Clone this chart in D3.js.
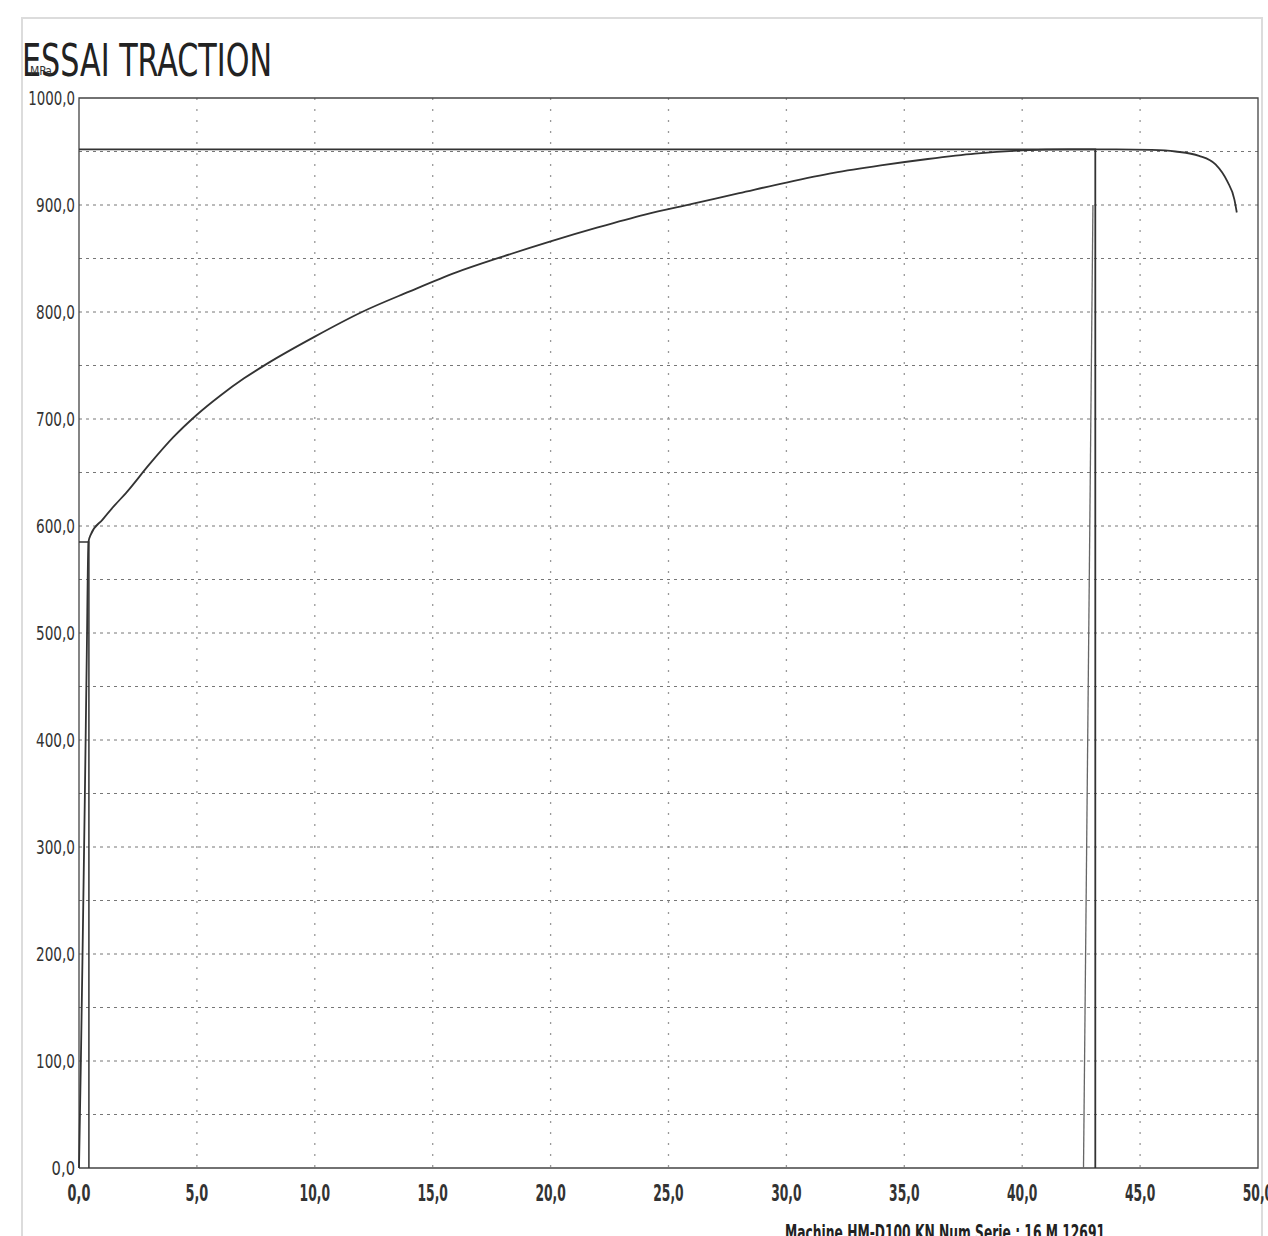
<!DOCTYPE html>
<html>
<head>
<meta charset="utf-8">
<script src="https://cdn.jsdelivr.net/npm/d3@7"></script>
<style>
  body { margin: 0; background: #fff; }
  text { font-family: "Liberation Sans Narrow", "DejaVu Sans Condensed", "Roboto Condensed", sans-serif; }
</style>
</head>
<body>
<div class="chart"></div>
<script>
	// tensile curve: elongation (%) vs stress (MPa)
	var elong = [0.0, 0.08, 0.15, 0.25, 0.33, 0.40, 0.5, 1.0, 1.5, 2, 3, 4, 5, 6, 7, 8, 10, 12, 14, 16, 18, 20, 22, 24, 26, 28, 30, 32, 34, 36, 38, 40, 42, 44, 45.5, 46.5, 47.5, 48.2, 48.7, 49.0, 49.1];
	var stress = [0, 100, 200, 350, 480, 585, 592, 606, 619, 631, 658, 683, 704, 722, 738, 752, 777, 800, 819, 837, 852, 866, 879, 891, 901, 911, 921, 930, 937, 943, 948, 951, 952, 952, 951.5, 950, 946, 938, 922, 905, 893];

	// markers: yield (Rp) and max (Rm) + rupture line
	var rpX = 0.42, rpY = 585;
	var rmX = 43.1, rmY = 952;
	var breakLine = [[43.0, 900], [42.6, 0]];

	var xTicks = [0, 5, 10, 15, 20, 25, 30, 35, 40, 45, 50];
	var yTicks = [0, 100, 200, 300, 400, 500, 600, 700, 800, 900, 1000];
	var yGrid = d3.range(50, 1000, 50);

	var svg_w = 1268, svg_h = 1236;
	var svg = d3.select("div.chart").append("svg")
		.attr("width", svg_w)
		.attr("height", svg_h);

	var pLeft = 79, pRight = 1258, pTop = 98, pBottom = 1168;

	var x = d3.scaleLinear().domain([0, 50]).range([pLeft, pRight]);
	var y = d3.scaleLinear().domain([0, 1000]).range([pBottom, pTop]);

	function fmt(d) { return d3.format(".1f")(d).replace(".", ","); }

	// page frame
	svg.append("rect")
		.attr("x", 22).attr("y", 18)
		.attr("width", 1240).attr("height", 1230)
		.attr("fill", "none")
		.attr("stroke", "#dcdcdc")
		.attr("stroke-width", 2);

	// grid
	svg.append("g").selectAll("line")
		.data(yGrid)
		.enter().append("line")
		.attr("x1", pLeft).attr("x2", pRight)
		.attr("y1", function(d) { return y(d); })
		.attr("y2", function(d) { return y(d); })
		.attr("stroke", "#777")
		.attr("stroke-width", 1)
		.attr("stroke-dasharray", "3,4");

	svg.append("g").selectAll("line")
		.data(xTicks.slice(1, -1))
		.enter().append("line")
		.attr("x1", function(d) { return x(d); })
		.attr("x2", function(d) { return x(d); })
		.attr("y1", pTop).attr("y2", pBottom)
		.attr("stroke", "#999")
		.attr("stroke-width", 1.3)
		.attr("stroke-dasharray", "2,9");

	// frame of plot
	svg.append("path")
		.attr("d", "M" + pLeft + "," + pBottom + "V" + pTop + "H" + pRight + "V" + pBottom + "H" + pLeft)
		.attr("fill", "none")
		.attr("stroke", "#444")
		.attr("stroke-width", 1.3);

	// axes labels
	svg.append("g").selectAll("text")
		.data(yTicks)
		.enter().append("text")
		.attr("x", 75)
		.attr("y", function(d) { return y(d) + 7; })
		.attr("text-anchor", "end")
		.attr("font-size", "20px")
		.attr("fill", "#333")
		.attr("textLength", function(d) { return fmt(d).length * 7.8; })
		.attr("lengthAdjust", "spacingAndGlyphs")
		.text(fmt);

	svg.append("g").selectAll("text")
		.data(xTicks)
		.enter().append("text")
		.attr("x", function(d) { return x(d); })
		.attr("y", 1201)
		.attr("text-anchor", "middle")
		.attr("font-size", "23px")
		.attr("font-weight", "bold")
		.attr("fill", "#333")
		.attr("textLength", function(d) { return fmt(d).length * 7.6; })
		.attr("lengthAdjust", "spacingAndGlyphs")
		.text(fmt);

	// markers
	svg.append("path")
		.attr("d", "M" + pLeft + "," + y(rpY) + "H" + x(rpX) + "V" + pBottom)
		.attr("fill", "none")
		.attr("stroke", "#333")
		.attr("stroke-width", 1.5);

	svg.append("path")
		.attr("d", "M" + pLeft + "," + y(rmY) + "H" + x(rmX) + "V" + pBottom)
		.attr("fill", "none")
		.attr("stroke", "#333")
		.attr("stroke-width", 1.8);

	svg.append("line")
		.attr("x1", x(breakLine[0][0])).attr("y1", y(breakLine[0][1]))
		.attr("x2", x(breakLine[1][0])).attr("y2", y(breakLine[1][1]))
		.attr("stroke", "#666")
		.attr("stroke-width", 1.3);

	// curve
	var line = d3.line()
		.x(function(d, i) { return x(elong[i]); })
		.y(function(d, i) { return y(stress[i]); })
		.curve(d3.curveMonotoneX);

	svg.append("path")
		.datum(elong)
		.attr("d", line)
		.attr("fill", "none")
		.attr("stroke", "#333")
		.attr("stroke-width", 1.8);

	// title
	svg.append("text")
		.attr("x", 22).attr("y", 76)
		.attr("font-size", "44px")
		.attr("fill", "#222")
		.attr("textLength", 250)
		.attr("lengthAdjust", "spacingAndGlyphs")
		.text("ESSAI TRACTION");

	svg.append("text")
		.attr("x", 30).attr("y", 75)
		.attr("font-size", "12px")
		.attr("fill", "#333")
		.text("MPa");

	svg.append("text")
		.attr("x", 785).attr("y", 1240)
		.attr("font-size", "22px")
		.attr("font-weight", "bold")
		.attr("fill", "#222")
		.attr("textLength", 320)
		.attr("lengthAdjust", "spacingAndGlyphs")
		.text("Machine HM-D100 KN Num Serie : 16 M 12691");
</script>
</body>
</html>
